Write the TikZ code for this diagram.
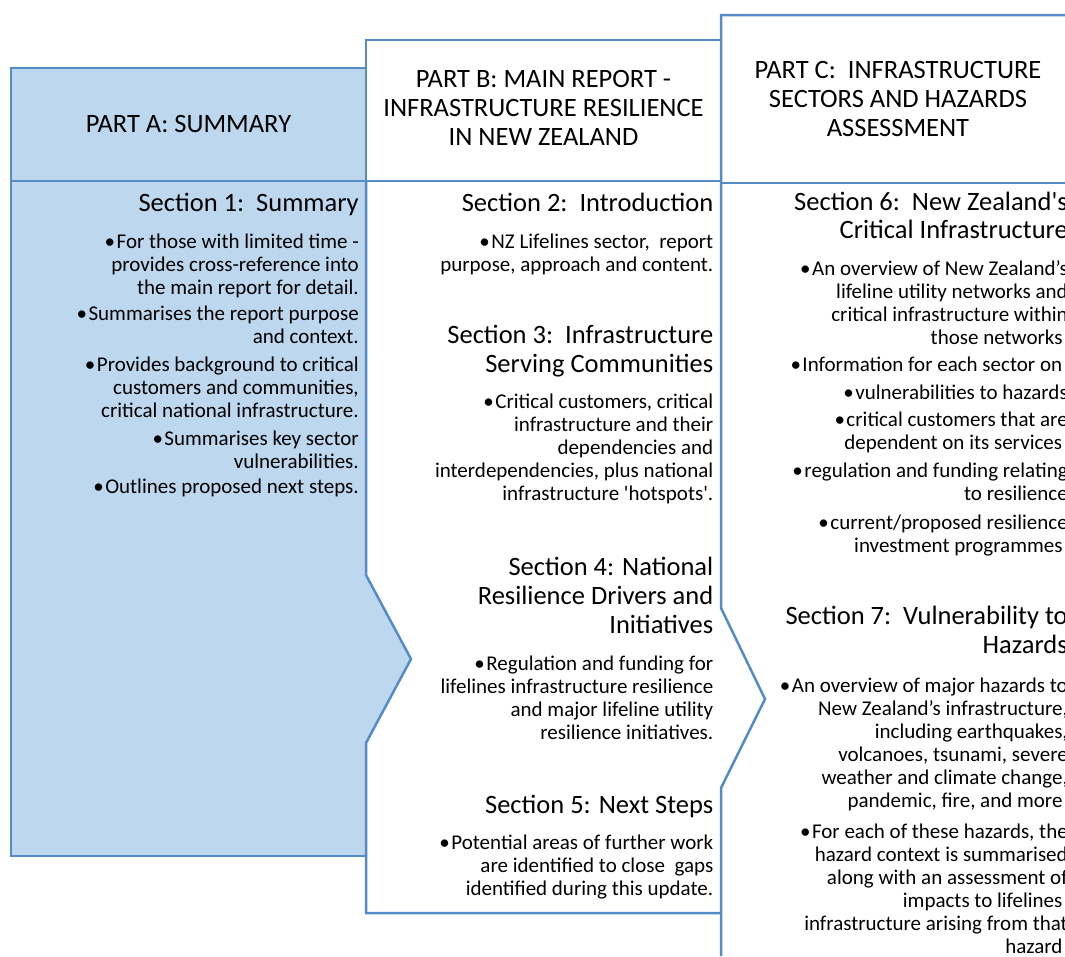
\documentclass[tikz,border=0pt]{standalone}
\usepackage{fontspec}
\setmainfont{Carlito}
\definecolor{partline}{RGB}{84,140,200}
\definecolor{partfill}{RGB}{189,215,238}
\newcommand{\bul}{•\hspace{1.5pt}}
\begin{document}
\begin{tikzpicture}[x=1pt, y=-1pt, line width=2.5pt,
    head/.style={align=center, inner sep=0pt, font=\fontsize{26.5}{29}\selectfont},
    title/.style={anchor=north east, align=right, inner sep=0pt, font=\fontsize{26.5}{29}\selectfont},
    body/.style={anchor=north east, align=right, inner sep=0pt, font=\fontsize{21}{23}\selectfont}]
  \useasboundingbox (0,0) rectangle (1065,956);
  \clip (0,0) rectangle (1065,956);
  \fill [partfill] (11,68) rectangle (366,181);
  \fill [partfill] (11,181) -- (366,181) -- (366,575) -- (411,659) -- (366,743) -- (366,856) -- (11,856) -- cycle;
  \draw [partline] (366,68) -- (11,68) -- (11,856) -- (366,856);
  \draw [partline] (11,181) -- (721,181);
  \draw [partline] (721,183) -- (1080,183);
  \draw [partline] (366,181) -- (366,40) -- (721,40);
  \draw [partline] (366,181) -- (366,575) -- (411,659) -- (366,743) -- (366,913) -- (721,913);
  \draw [partline] (721,956) -- (721,788) -- (765,699) -- (721,608) -- (721,15) -- (1080,15);

  \node [head] (partA) at (188.5,124) {PART A: SUMMARY};
  \node [head] (partB) at (543.5,108) {PART B: MAIN REPORT -\\INFRASTRUCTURE RESILIENCE\\IN NEW ZEALAND};
  \node [head] (partC) at (898,99) {PART C:\ \ INFRASTRUCTURE\\SECTORS AND HAZARDS\\ASSESSMENT};

  \node [title] (secOne) at (360,192) {Section 1:\ \ Summary};
  \node [body] (secOneText) at (360,232.5) {\bul For those with limited time -\\provides cross-reference into\\the main report for detail.\\[3pt]
    \bul Summarises the report purpose\\and context.\\[5pt]
    \bul Provides background to critical\\customers and communities,\\critical national infrastructure.\\[5pt]
    \bul Summarises key sector\\vulnerabilities.\\[2pt]
    \bul Outlines proposed next steps.};

  \node [title] (secTwo) at (714.5,192) {Section 2:\ \ Introduction};
  \node [body] (secTwoText) at (714.5,232.5) {\bul NZ Lifelines sector,\ \ report\\purpose, approach and content.};
  \node [title] (secThree) at (714.5,323.5) {Section 3:\ \ Infrastructure\\Serving Communities};
  \node [body] (secThreeText) at (714.5,392.5) {\bul Critical customers, critical\\infrastructure and their\\dependencies and\\interdependencies, plus national\\infrastructure \textquotesingle hotspots\textquotesingle.};
  \node [title] (secFour) at (714.5,555.5) {Section 4: National\\Resilience Drivers and\\Initiatives};
  \node [body] (secFourText) at (714.5,654.5) {\bul Regulation and funding for\\lifelines infrastructure resilience\\and major lifeline utility\\resilience initiatives.};
  \node [title] (secFive) at (714.5,794) {Section 5: Next Steps};
  \node [body] (secFiveText) at (714.5,833.5) {\bul Potential areas of further work\\are identified to close\ \ gaps\\identified during this update.};

  \node [title] (secSix) at (1069,190.5) {Section 6:\ \ New Zealand\textquotesingle s\\[-1pt]Critical Infrastructure};
  \node [body] (secSixText) at (1069,259) {\bul An overview of New Zealand’s\\lifeline utility networks and\\critical infrastructure within\\those networks\hphantom{.}\\[4pt]
    \bul Information for each sector on\hphantom{:}\\[5pt]
    \bul vulnerabilities to hazards\\[4pt]
    \bul critical customers that are\\dependent on its services\hphantom{;}\\[5pt]
    \bul regulation and funding relating\\to resilience\\[6pt]
    \bul current/proposed resilience\\investment programmes\hphantom{.}};
  \node [title] (secSeven) at (1069,604.5) {Section 7:\ \ Vulnerability to\\Hazards};
  \node [body] (secSevenText) at (1069,677) {\bul An overview of major hazards to\\New Zealand’s infrastructure,\\including earthquakes,\\volcanoes, tsunami, severe\\weather and climate change,\\pandemic, fire, and more\hphantom{.}\\[8pt]
    \bul For each of these hazards, the\\hazard context is summarised\\along with an assessment of\\impacts to lifelines\hphantom{.}\\infrastructure arising from that\\hazard\hphantom{.}};
\end{tikzpicture}
\end{document}
